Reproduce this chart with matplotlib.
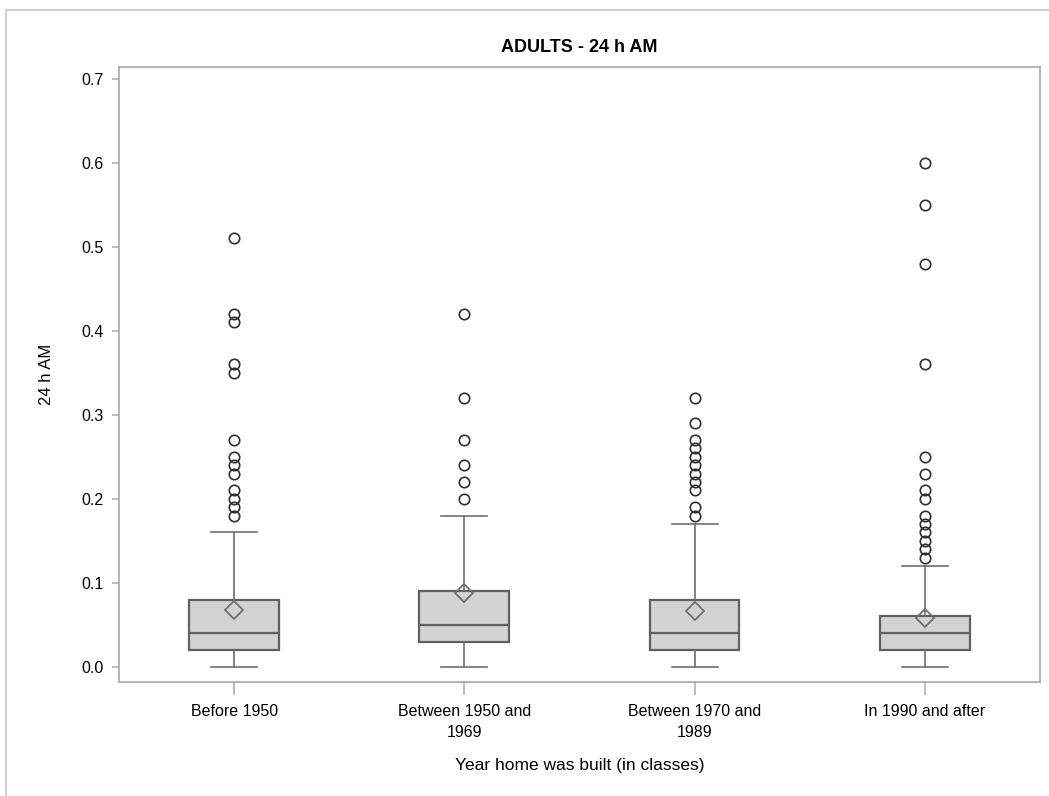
import matplotlib
matplotlib.use('Agg')
import matplotlib.pyplot as plt
from matplotlib.lines import Line2D

plt.rcParams['font.family'] = ['Liberation Sans', 'DejaVu Sans']

categories = ['Before 1950', 'Between 1950 and\n1969', 'Between 1970 and\n1989', 'In 1990 and after']
whislo = [0.0, 0.0, 0.0, 0.0]
q1 = [0.02, 0.03, 0.02, 0.02]
med = [0.04, 0.05, 0.04, 0.04]
q3 = [0.08, 0.09, 0.08, 0.06]
whishi = [0.16, 0.18, 0.17, 0.12]
means = [0.068, 0.088, 0.067, 0.058]
fliers = [
    [0.51, 0.42, 0.41, 0.36, 0.35, 0.27, 0.25, 0.24, 0.23, 0.21, 0.20, 0.19, 0.18],
    [0.42, 0.32, 0.27, 0.24, 0.22, 0.20],
    [0.32, 0.29, 0.27, 0.26, 0.25, 0.24, 0.23, 0.22, 0.21, 0.19, 0.18],
    [0.60, 0.55, 0.48, 0.36, 0.25, 0.23, 0.21, 0.20, 0.18, 0.17, 0.16, 0.15, 0.14, 0.13],
]

stats = []
for i in range(len(categories)):
    stats.append(dict(whislo=whislo[i], q1=q1[i], med=med[i], q3=q3[i],
                      whishi=whishi[i], mean=means[i], fliers=fliers[i]))

fig = plt.figure(figsize=(10.49, 7.96), dpi=100)
ax = fig.add_axes([0.1134, 0.1432, 0.878, 0.7726])

edge = '#606060'
ax.bxp(stats, positions=range(len(categories)), widths=0.39, capwidths=0.2,
       showmeans=True, patch_artist=True,
       boxprops=dict(facecolor='#d3d3d3', edgecolor=edge, linewidth=1.6),
       medianprops=dict(color=edge, linewidth=1.6),
       whiskerprops=dict(color='#707070', linewidth=1.2),
       capprops=dict(color='#707070', linewidth=1.2),
       meanprops=dict(marker='D', markersize=9, markerfacecolor='none',
                      markeredgecolor='#707070', markeredgewidth=1.3),
       flierprops=dict(marker='o', markersize=7.5, markerfacecolor='none',
                       markeredgecolor='#303030', markeredgewidth=1.2))

ax.set_xlim(-0.5, 3.5)
ax.set_ylim(-0.018, 0.714)
ax.set_yticks([0.0, 0.1, 0.2, 0.3, 0.4, 0.5, 0.6, 0.7])
ax.set_yticklabels(['0.0', '0.1', '0.2', '0.3', '0.4', '0.5', '0.6', '0.7'])
ax.set_xticks(range(len(categories)))
ax.set_xticklabels(categories, linespacing=1.45)
ax.tick_params(axis='both', colors='#b0b0b0', labelcolor='black', labelsize=11.5,
               length=5, width=1.2)
ax.tick_params(axis='x', length=9, pad=7)
ax.tick_params(axis='y', pad=6)
for s in ax.spines.values():
    s.set_color('#a8a8a8')
    s.set_linewidth(1.2)

ax.set_title('ADULTS - 24 h AM', fontsize=13, fontweight='bold', pad=11)
ax.set_xlabel('Year home was built (in classes)', fontsize=12.5, labelpad=13)
ax.set_ylabel('24 h AM', fontsize=12, labelpad=20)

# outer frame of the graph
fig.add_artist(Line2D([0.006, 1.0], [0.987, 0.987], color='#d0d0d0', linewidth=1.5))
fig.add_artist(Line2D([0.006, 0.006], [0.0, 0.987], color='#d0d0d0', linewidth=1.5))

fig.savefig('out.png', dpi=100)
